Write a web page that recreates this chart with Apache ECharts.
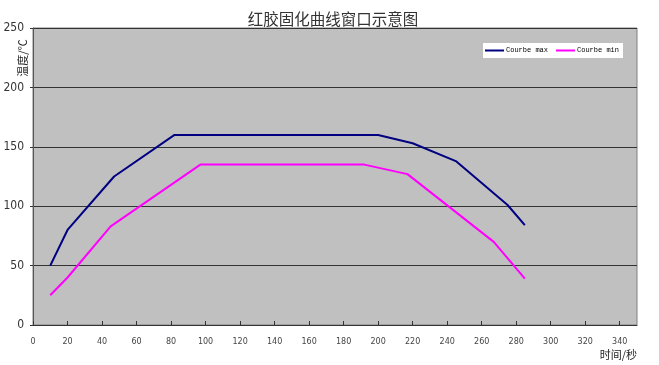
<!DOCTYPE html>
<html><head><meta charset="utf-8">
<script src="https://cdn.jsdelivr.net/npm/echarts@6/dist/echarts.min.js"></script>
<style>html,body{margin:0;padding:0;background:#fff}#c{width:659px;height:365px}</style>
</head><body><div id="c"></div>
<script>
const titleText = '红胶固化曲线窗口示意图';
const xName = '时间/秒';
const yName = '温度/℃';
const seriesNames = ['Courbe max', 'Courbe min'];
const maxTimes = [10, 20, 47, 82, 200, 220, 245, 275, 285];
const maxTemps = [50, 80, 125, 160, 160, 153, 138, 101, 84];
const minTimes = [10, 20, 45, 97, 192, 217, 267, 285];
const minTemps = [25, 40, 83, 135, 135, 127, 70, 39];

const chart = echarts.init(document.getElementById('c'));
const pair = (xs, ys) => xs.map((x, i) => [x, ys[i]]);
chart.setOption({
  animation: false,
  title: { text: titleText, left: 328, textAlign: 'center', top: 6,
    textStyle: { fontSize: 15.5, fontWeight: 'normal', color: '#333', fontFamily: 'Noto Sans CJK SC' } },
  grid: { left: 33, right: 22, top: 28, bottom: 40, show: true, backgroundColor: '#C0C0C0', borderColor: '#808080', borderWidth: 1 },
  legend: {
    data: seriesNames, left: 483, top: 43, backgroundColor: '#fff', padding: [4, 4, 4, 2],
    icon: 'rect', itemWidth: 19, itemHeight: 2, itemGap: 8,
    textStyle: { fontSize: 7, fontFamily: 'Liberation Mono', color: '#000', padding: [0, 0, 0, -3] }
  },
  xAxis: {
    type: 'value', min: 0, max: 350, interval: 20,
    name: xName, nameLocation: 'end', nameGap: 0,
    nameTextStyle: { align: 'right', verticalAlign: 'top', padding: [24, 0, 0, 0], fontSize: 11, color: '#222', fontFamily: 'Noto Sans CJK SC' },
    axisLine: { lineStyle: { color: '#333', width: 1 } },
    axisTick: { inside: true, length: 4, lineStyle: { color: '#333' } },
    axisLabel: { fontSize: 8, color: '#444', margin: 13, showMaxLabel: false, fontFamily: 'DejaVu Sans, sans-serif' },
    splitLine: { show: false }
  },
  yAxis: {
    type: 'value', min: 0, max: 250, interval: 50,
    axisLine: { show: true, lineStyle: { color: '#555', width: 1 } },
    axisTick: { show: true, length: 3, lineStyle: { color: '#333' } },
    axisLabel: { fontSize: 12, color: '#333', margin: 9, fontFamily: 'DejaVu Sans Condensed, Liberation Sans, sans-serif' },
    splitLine: { show: true, lineStyle: { color: '#333', width: 1 } }
  },
  graphic: [{
    type: 'text', x: 23, y: 58, rotation: Math.PI / 2,
    style: { text: yName, fontSize: 11, fill: '#222', textAlign: 'center', textVerticalAlign: 'middle', fontFamily: 'Noto Sans CJK SC' }
  }],
  series: [
    { name: seriesNames[0], type: 'line', symbol: 'none', data: pair(maxTimes, maxTemps), lineStyle: { color: '#000080', width: 2 }, itemStyle: { color: '#000080' } },
    { name: seriesNames[1], type: 'line', symbol: 'none', data: pair(minTimes, minTemps), lineStyle: { color: '#FF00FF', width: 2 }, itemStyle: { color: '#FF00FF' } }
  ]
});
</script></body></html>
